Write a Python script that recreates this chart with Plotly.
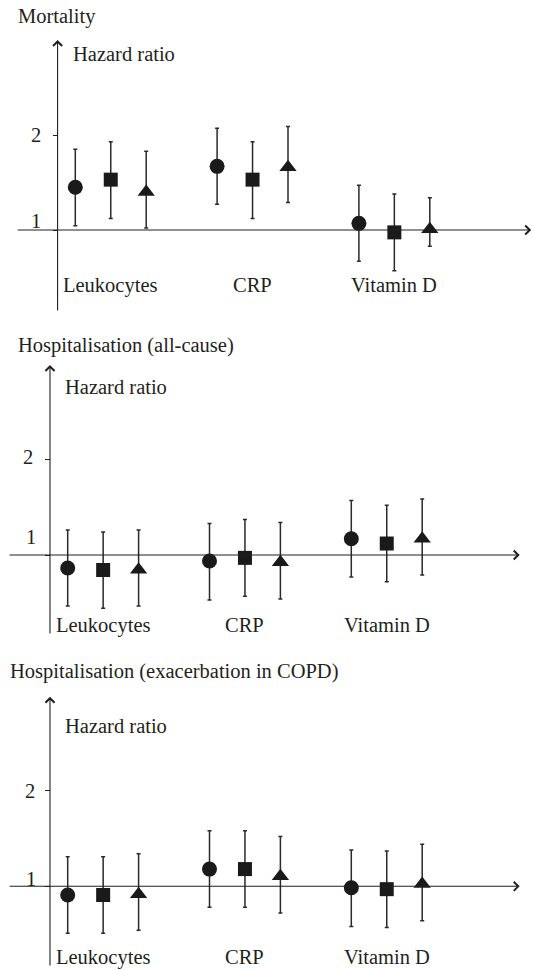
import plotly.graph_objects as go

# ---------------- data ----------------
panel_titles = ["Mortality", "Hospitalisation (all-cause)", "Hospitalisation (exacerbation in COPD)"]
categories = ["Leukocytes", "CRP", "Vitamin D"]
y_title = "Hazard ratio"
tick_values = [1, 2]
tick_labels = ["1", "2"]
symbols = ["circle", "square", "triangle-up"]

# estimates / lower / upper, ordered: Leuk(c,s,t), CRP(c,s,t), VitD(c,s,t)
mort_est = [1.45, 1.53, 1.40, 1.67, 1.53, 1.66, 1.07, 0.975, 1.007]
mort_lo = [1.045, 1.12, 1.02, 1.27, 1.12, 1.29, 0.67, 0.57, 0.83]
mort_hi = [1.85, 1.93, 1.83, 2.07, 1.93, 2.09, 1.47, 1.38, 1.34]

hosp_est = [0.864, 0.843, 0.845, 0.937, 0.97, 0.925, 1.17, 1.12, 1.17]
hosp_lo = [0.467, 0.443, 0.467, 0.53, 0.57, 0.54, 0.77, 0.72, 0.79]
hosp_hi = [1.26, 1.24, 1.26, 1.33, 1.37, 1.34, 1.57, 1.52, 1.585]

copd_est = [0.909, 0.909, 0.917, 1.18, 1.18, 1.105, 0.985, 0.97, 1.025]
copd_lo = [0.508, 0.508, 0.54, 0.78, 0.78, 0.72, 0.58, 0.57, 0.64]
copd_hi = [1.31, 1.31, 1.34, 1.58, 1.58, 1.52, 1.38, 1.37, 1.44]

# ---------------- layout helpers ----------------
W, H = 533, 970
FONT = "Liberation Serif, Times New Roman, DejaVu Serif, serif"
TXT = "#231f20"
UNIT_X = 35.45
MARKER_SIZES = {"circle": 15, "square": 14, "triangle-up": 15}

panels = [
    dict(est=mort_est, lo=mort_lo, hi=mort_hi, top=0, bot=320, x0=75.3, y1=230.0, uy=95.0,
         ax_px=57.5, ytop=3.0, ybot=0.137, xl=-1.67, xr=12.86,
         title_xy=(16, 16), hr_xy=(71, 54), lab_y=285,
         tick_xy={1: (43, 221), 2: (43, 135)}),
    dict(est=hosp_est, lo=hosp_lo, hi=hosp_hi, top=320, bot=650, x0=67.7, y1=555.0, uy=95.7,
         ax_px=49.5, ytop=2.985, ybot=0.164, xl=-1.68, xr=12.75,
         title_xy=(16, 345), hr_xy=(63, 387), lab_y=625,
         tick_xy={1: (38, 537), 2: (35, 457)}),
    dict(est=copd_est, lo=copd_lo, hi=copd_hi, top=650, bot=970, x0=67.7, y1=886.3, uy=95.6,
         ax_px=49.5, ytop=2.983, ybot=0.157, xl=-1.68, xr=12.75,
         title_xy=(8, 671), hr_xy=(63, 726), lab_y=957,
         tick_xy={1: (38, 879), 2: (37, 791)}),
]

fig = go.Figure()
annotations = []

for p_i, p in enumerate(panels):
    sfx = "" if p_i == 0 else str(p_i + 1)
    xa, ya = "x" + sfx, "y" + sfx
    for j, sym in enumerate(symbols):
        idx = [g * 3 + j for g in range(len(categories))]
        xs = [g * 4 + j for g in range(len(categories))]
        est = [p["est"][k] for k in idx]
        up = [p["hi"][k] - p["est"][k] for k in idx]
        dn = [p["est"][k] - p["lo"][k] for k in idx]
        fig.add_trace(go.Scatter(
            x=xs, y=est, mode="markers", xaxis=xa, yaxis=ya,
            marker=dict(symbol=sym, size=MARKER_SIZES[sym],
                        color="#1a1a1a", line=dict(width=0)),
            error_y=dict(type="data", symmetric=False, array=up, arrayminus=dn,
                         color="#2a2a2a", thickness=1.5, width=2),
            showlegend=False, cliponaxis=False,
        ))

    xmin = -p["x0"] / UNIT_X
    xmax = (W - p["x0"]) / UNIT_X
    ymin = 1 - (p["bot"] - p["y1"]) / p["uy"]
    ymax = 1 + (p["y1"] - p["top"]) / p["uy"]
    dom_y = [1 - p["bot"] / H, 1 - p["top"] / H]

    fig.update_layout(**{
        "xaxis" + sfx: dict(domain=[0, 1], range=[xmin, xmax], anchor=ya,
                            showline=False, showgrid=False, zeroline=False,
                            showticklabels=False, ticks="", fixedrange=True),
        "yaxis" + sfx: dict(domain=dom_y, range=[ymin, ymax], anchor="free",
                            position=p["ax_px"] / W, side="left",
                            showline=False, showgrid=False, zeroline=False,
                            tickvals=tick_values, ticks="outside", ticklen=5,
                            tickwidth=1, tickcolor="#231f20",
                            showticklabels=False, fixedrange=True),
    })

    # axes lines with arrows
    annotations.append(dict(xref=xa, yref=ya, axref=xa, ayref=ya,
                            x=-0.5, y=p["ytop"], ax=-0.5, ay=p["ybot"], text="",
                            showarrow=True, arrowhead=4, arrowsize=1.6, arrowwidth=1.1,
                            arrowcolor="#231f20", standoff=0, startstandoff=0))
    annotations.append(dict(xref=xa, yref=ya, axref=xa, ayref=ya,
                            x=p["xr"], y=1, ax=p["xl"], ay=1, text="",
                            showarrow=True, arrowhead=4, arrowsize=1.6, arrowwidth=1.1,
                            arrowcolor="#231f20", standoff=0, startstandoff=0))

    # category labels
    for g, cat in enumerate(categories):
        annotations.append(dict(xref=xa, yref="paper", x=g * 4 + 1, y=1 - p["lab_y"] / H,
                                text=cat, showarrow=False, xanchor="center", yanchor="middle",
                                font=dict(family=FONT, size=20.5, color=TXT)))
    # tick labels
    for tv, tl in zip(tick_values, tick_labels):
        tx, ty = p["tick_xy"][tv]
        annotations.append(dict(xref="paper", yref="paper", x=tx / W, y=1 - ty / H,
                                text=tl, showarrow=False, xanchor="right", yanchor="middle",
                                font=dict(family=FONT, size=20.5, color=TXT)))
    # panel title and y title
    tx, ty = p["title_xy"]
    annotations.append(dict(xref="paper", yref="paper", x=tx / W, y=1 - ty / H,
                            text=panel_titles[p_i], showarrow=False, xanchor="left",
                            yanchor="middle", font=dict(family=FONT, size=20.5, color=TXT)))
    hx, hy = p["hr_xy"]
    annotations.append(dict(xref="paper", yref="paper", x=hx / W, y=1 - hy / H,
                            text=y_title, showarrow=False, xanchor="left",
                            yanchor="middle", font=dict(family=FONT, size=20.5, color=TXT)))

fig.update_layout(width=W, height=H, margin=dict(l=0, r=0, t=0, b=0),
                  paper_bgcolor="white", plot_bgcolor="white",
                  annotations=annotations, showlegend=False,
                  font=dict(family=FONT, color=TXT))

fig.write_html("out.html", config={"displayModeBar": False},
               post_script="document.body.style.margin='0';")
